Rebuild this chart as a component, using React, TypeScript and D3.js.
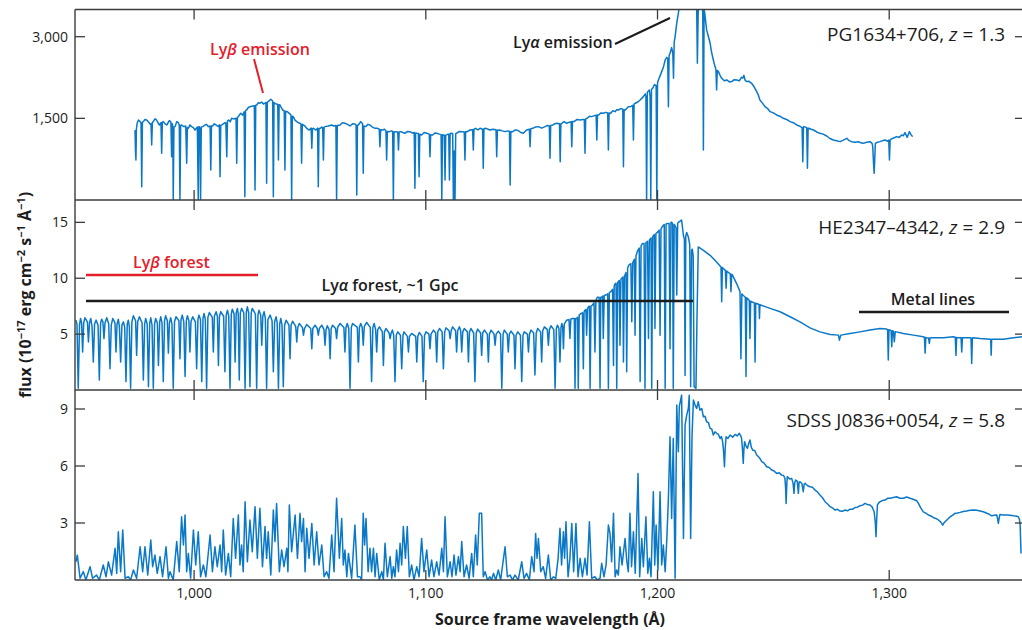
import React from "react";
import * as d3 from "d3";

// Wavelength ticks (Å) shared by all panels
const xTicks = [1000, 1100, 1200, 1300];
// Flux ticks for each quasar panel
const pgTicks = [1500, 3000];
const heTicks = [5, 10, 15];
const sdssTicks = [3, 6, 9];

// PG1634+706, z = 1.3 — [rest wavelength Å, flux]
const pgSpectrum: [number, number][] = [
  [974.5, 1286], [974.7, 900], [974.9, 735], [975.1, 1300], [975.4, 1409], [976.0, 1470], [976.7, 1440], [977.1, 1420],
  [977.4, 245], [977.7, 1430], [978.1, 1440], [978.8, 1480], [979.5, 1470], [980.2, 1440], [981.0, 1397], [981.4, 1400],
  [981.7, 1011], [982.0, 1430], [982.4, 1440], [983.1, 1490], [983.8, 1470], [984.4, 1420], [985.0, 1378], [985.7, 1420],
  [986.0, 858], [986.3, 1430], [986.7, 1440], [987.5, 1400], [988.2, 1378], [989.3, 1458], [990.0, 1430], [990.3, 796],
  [990.6, 1400], [990.8, 1350], [991.0, 0], [991.3, 1340], [991.8, 1348], [992.5, 1440], [993.2, 1420], [993.6, 1380],
  [993.9, 0], [994.2, 1370], [994.6, 1378], [995.6, 1348], [996.4, 1360], [996.8, 674], [997.1, 1330], [997.5, 1317],
  [998.2, 1380], [998.9, 1348], [999.7, 1330], [1000.4, 1286], [1001.4, 1340], [1001.8, 0], [1002.05, 1348], [1002.3, 1348],
  [1002.55, 1300], [1002.8, 0], [1003.1, 1340], [1003.7, 1348], [1004.7, 1378], [1005.4, 1390], [1006.1, 1348], [1006.9, 1360],
  [1007.2, 551], [1007.5, 1360], [1008.0, 1360], [1008.7, 1400], [1009.5, 1378], [1010.3, 1350], [1010.9, 1380], [1011.2, 429],
  [1011.5, 1370], [1011.9, 1378], [1012.9, 1409], [1013.7, 1420], [1014.1, 796], [1014.4, 1450], [1014.9, 1470], [1015.6, 1440],
  [1016.2, 1501], [1017.0, 1490], [1018.1, 1500], [1018.4, 674], [1018.7, 1520], [1019.1, 1532], [1020.1, 1593], [1021.0, 1560],
  [1021.6, 1620], [1021.9, 61], [1022.2, 1640], [1022.7, 1654], [1023.4, 1700], [1024.1, 1715], [1025.3, 1728], [1026.0, 1730],
  [1026.3, 184], [1026.6, 1740], [1027.0, 1746], [1027.8, 1790], [1028.5, 1777], [1029.2, 1800], [1029.9, 1764], [1031.0, 1790],
  [1031.3, 306], [1031.6, 1800], [1032.0, 1807], [1033.1, 1850], [1033.9, 1820], [1034.2, 61], [1034.5, 1790], [1034.9, 1777],
  [1035.6, 1760], [1036.1, 1760], [1036.4, 735], [1036.7, 1750], [1037.1, 1746], [1037.6, 1700], [1038.2, 1654], [1038.9, 1640],
  [1039.2, 551], [1039.5, 1630], [1040.2, 1623], [1041.1, 1593], [1041.8, 1560], [1042.1, 0], [1042.4, 1540], [1042.8, 1532],
  [1043.5, 1470], [1044.3, 1440], [1045.0, 1420], [1045.7, 1409], [1046.1, 1400], [1046.4, 674], [1046.7, 1390], [1047.1, 1378],
  [1047.8, 1360], [1048.6, 1317], [1049.7, 1286], [1050.5, 1320], [1050.8, 950], [1051.1, 1310], [1051.5, 1317], [1052.6, 1286],
  [1053.3, 1320], [1053.6, 245], [1053.9, 1310], [1054.4, 1317], [1055.1, 1340], [1055.5, 1330], [1055.8, 735], [1056.1, 1340],
  [1056.5, 1348], [1057.9, 1360], [1059.4, 1378], [1060.3, 1360], [1061.2, 1370], [1061.5, 0], [1061.8, 1370], [1063.0, 1378],
  [1064.0, 1420], [1065.1, 1409], [1066.2, 1390], [1067.3, 1360], [1068.4, 1400], [1069.4, 1397], [1069.9, 1380], [1070.2, 92],
  [1070.5, 1370], [1070.9, 1378], [1071.9, 1440], [1072.7, 1400], [1073.0, 490], [1073.3, 1360], [1074.2, 1348], [1075.0, 1390],
  [1075.9, 1378], [1077.0, 1340], [1078.1, 1317], [1079.0, 1320], [1079.9, 1300], [1080.2, 980], [1080.5, 1290], [1081.4, 1286],
  [1082.2, 1300], [1082.8, 1270], [1083.1, 735], [1083.4, 1260], [1084.3, 1256], [1085.2, 1270], [1085.7, 1260], [1086.0, 0],
  [1086.3, 1250], [1086.7, 1256], [1087.9, 1250], [1088.2, 919], [1088.5, 1250], [1089.2, 1256], [1090.1, 1240], [1091.0, 1225],
  [1092.1, 1260], [1093.2, 1256], [1094.2, 1230], [1095.0, 1240], [1095.3, 214], [1095.6, 1230], [1096.1, 1225], [1096.8, 1220],
  [1097.1, 429], [1097.4, 1210], [1098.2, 1195], [1099.3, 1240], [1100.4, 1225], [1101.5, 1210], [1101.8, 796], [1102.1, 1200],
  [1103.0, 1195], [1103.9, 1230], [1104.7, 1225], [1105.8, 1210], [1106.6, 1200], [1106.9, 0], [1107.2, 1200], [1107.6, 1195],
  [1108.0, 1190], [1108.3, 367], [1108.6, 1190], [1109.0, 1195], [1109.6, 1210], [1109.9, 1210], [1110.2, 367], [1110.5, 1220],
  [1110.9, 1225], [1111.6, 1220], [1111.9, 0], [1112.25, 900], [1112.6, 0], [1112.9, 1220], [1113.3, 1225], [1114.4, 1260],
  [1115.5, 1256], [1116.6, 1250], [1116.9, 735], [1117.2, 1260], [1117.9, 1256], [1119.1, 1286], [1120.2, 1290], [1120.5, 919],
  [1120.8, 1300], [1121.5, 1317], [1122.5, 1290], [1123.4, 1317], [1124.5, 1300], [1124.8, 582], [1125.1, 1310], [1126.0, 1317],
  [1127.7, 1286], [1129.0, 1300], [1130.3, 1290], [1130.6, 796], [1130.9, 1280], [1131.8, 1286], [1133.0, 1270], [1134.2, 1256],
  [1135.3, 1270], [1136.1, 1260], [1136.4, 276], [1136.7, 1260], [1137.5, 1256], [1138.7, 1290], [1139.9, 1274], [1141.0, 1240],
  [1142.1, 1225], [1143.5, 1286], [1144.7, 1300], [1145.0, 980], [1145.3, 1310], [1146.1, 1317], [1147.4, 1340], [1148.6, 1348],
  [1150.0, 1320], [1151.5, 1348], [1152.5, 1370], [1153.3, 1360], [1153.6, 766], [1153.9, 1370], [1154.8, 1378], [1155.6, 1400],
  [1156.5, 1409], [1157.7, 1400], [1158.0, 704], [1158.3, 1400], [1158.7, 1409], [1159.7, 1440], [1160.8, 1409], [1162.0, 1430],
  [1162.7, 1440], [1163.0, 980], [1163.3, 1440], [1164.0, 1440], [1165.3, 1480], [1166.6, 1470], [1167.8, 1480], [1168.4, 1480],
  [1168.7, 858], [1169.0, 1490], [1169.7, 1501], [1170.6, 1540], [1171.6, 1532], [1172.8, 1550], [1173.5, 1560], [1173.8, 1103],
  [1174.1, 1560], [1174.6, 1562], [1175.6, 1600], [1176.6, 1593], [1177.7, 1610], [1178.5, 1600], [1178.8, 919], [1179.1, 1600],
  [1179.8, 1593], [1180.7, 1640], [1181.7, 1623], [1182.4, 1660], [1183.1, 1654], [1184.2, 1680], [1185.0, 1670], [1185.3, 612],
  [1185.6, 1660], [1186.1, 1654], [1187.4, 1715], [1188.5, 1720], [1189.3, 1740], [1189.6, 1103], [1189.9, 1760], [1190.4, 1777],
  [1191.5, 1800], [1192.5, 1838], [1193.9, 1899], [1194.7, 1950], [1195.0, 1900], [1195.3, 0], [1195.6, 1980], [1196.5, 2022],
  [1196.8, 1900], [1197.1, 0], [1197.4, 2030], [1197.9, 2052], [1198.7, 2120], [1199.4, 2100], [1199.7, 0], [1200.0, 2150],
  [1200.4, 2206], [1201.8, 2359], [1202.6, 2450], [1203.3, 2573], [1204.0, 2620], [1204.4, 2600], [1204.7, 1715], [1205.0, 2650],
  [1205.4, 2696], [1206.1, 2800], [1206.6, 2700], [1206.9, 2236], [1207.2, 2900], [1207.6, 3002], [1208.3, 3250], [1209.0, 3431],
  [1210.5, 3900], [1212.0, 4250], [1214.0, 4400], [1216.0, 4100], [1216.9, 3553], [1217.2, 2512], [1217.6, 3553], [1218.6, 3860],
  [1219.5, 3700], [1219.8, 919], [1220.1, 3500], [1220.4, 3431], [1221.2, 3125], [1222.0, 3000], [1222.7, 2880], [1223.4, 2700],
  [1224.1, 2573], [1224.8, 2451], [1225.2, 2400], [1225.5, 2022], [1225.8, 2380], [1226.3, 2359], [1227.0, 2290], [1227.7, 2236],
  [1228.8, 2190], [1229.9, 2206], [1231.0, 2170], [1232.0, 2175], [1233.1, 2210], [1234.2, 2206], [1235.3, 2190], [1236.3, 2255],
  [1236.8, 2240], [1237.3, 2290], [1237.8, 2200], [1238.5, 2175], [1239.5, 2180], [1240.6, 2144], [1241.7, 2080], [1242.8, 1991],
  [1243.5, 1930], [1244.2, 1838], [1245.3, 1780], [1246.4, 1715], [1247.5, 1680], [1248.6, 1623], [1250.0, 1600], [1251.4, 1562],
  [1252.8, 1540], [1254.3, 1501], [1255.7, 1480], [1257.2, 1440], [1258.6, 1420], [1260.1, 1378], [1261.2, 1360], [1262.2, 1335],
  [1262.4, 1330], [1262.7, 704], [1263.0, 1340], [1263.2, 1348], [1264.4, 1330], [1264.7, 582], [1265.0, 1320], [1265.3, 1317],
  [1266.3, 1300], [1267.3, 1286], [1268.7, 1250], [1270.1, 1225], [1271.5, 1210], [1273.0, 1176], [1274.4, 1130], [1275.9, 1103],
  [1277.3, 1090], [1278.8, 1072], [1280.2, 1100], [1281.7, 1133], [1282.7, 1090], [1283.8, 1072], [1285.2, 1060], [1286.7, 1072],
  [1287.7, 1050], [1288.8, 1041], [1290.2, 1060], [1291.7, 1072], [1292.6, 1040], [1292.9, 980], [1293.2, 700], [1293.5, 490],
  [1293.8, 800], [1294.0, 1041], [1295.0, 1060], [1296.0, 1072], [1297.1, 1090], [1298.2, 1103], [1299.2, 1080], [1299.8, 1100],
  [1300.1, 735], [1300.4, 1100], [1300.6, 1115], [1301.9, 1140], [1303.2, 1164], [1304.3, 1150], [1305.4, 1195], [1306.1, 1180],
  [1306.8, 1237], [1307.8, 1152], [1308.7, 1256], [1309.4, 1200], [1310.1, 1164],
];

// HE2347−4342, z = 2.9
const heSpectrum: [number, number][] = [
  [949.0, 6.25], [949.45, 5.9], [950.0, 0.15], [950.55, 5.8], [951.0, 6.4], [951.45, 6.0], [951.9, 3.4], [952.35, 6.0],
  [952.9, 6.46], [953.95, 6.1], [954.4, 4.3], [954.85, 6.0], [955.4, 6.4], [955.95, 5.7], [956.5, 2.5], [957.05, 5.9],
  [957.7, 6.25], [958.55, 5.8], [959.1, 0.9], [959.65, 6.0], [960.1, 6.34], [960.65, 6.1], [961.1, 4.6], [961.55, 6.0],
  [962.3, 6.46], [963.15, 5.9], [963.7, 1.9], [964.25, 5.8], [964.9, 6.4], [965.85, 6.0], [966.3, 3.4], [966.75, 5.9],
  [967.3, 6.34], [967.75, 5.7], [968.3, 2.5], [968.85, 5.8], [969.5, 6.1], [970.05, 5.6], [970.6, 0.75], [971.15, 5.9],
  [971.6, 6.25], [972.05, 5.7], [972.6, 0.15], [973.15, 6.1], [973.8, 6.64], [974.75, 6.2], [975.2, 3.1], [975.65, 6.1],
  [976.4, 6.55], [977.55, 6.0], [978.1, 0.9], [978.65, 5.9], [979.1, 6.4], [979.75, 5.9], [980.3, 0.3], [980.85, 6.0],
  [981.3, 6.46], [981.85, 5.8], [982.4, 0.15], [982.95, 5.9], [983.4, 6.4], [984.15, 6.0], [984.6, 2.2], [985.15, 6.1],
  [985.6, 6.55], [986.15, 6.0], [986.7, 0.75], [987.25, 6.2], [987.7, 6.64], [988.45, 6.2], [988.9, 3.3], [989.35, 6.0],
  [989.9, 6.46], [990.45, 5.9], [991.0, 0.15], [991.55, 6.1], [992.2, 6.55], [993.45, 6.2], [993.9, 2.8], [994.35, 6.3],
  [994.9, 6.7], [995.55, 6.1], [996.1, 1.2], [996.65, 6.2], [997.1, 6.64], [997.75, 6.2], [998.2, 3.4], [998.65, 6.1],
  [999.4, 6.55], [1000.55, 6.1], [1001.1, 1.9], [1001.65, 6.3], [1002.1, 6.7], [1002.75, 6.3], [1003.3, 0.75], [1003.85, 6.4],
  [1004.3, 6.85], [1004.85, 6.3], [1005.4, 0.15], [1005.95, 6.5], [1006.6, 6.93], [1007.85, 6.5], [1008.3, 3.4], [1008.75, 6.6],
  [1009.5, 7.0], [1010.05, 6.6], [1010.5, 2.2], [1010.95, 6.6], [1011.5, 7.0], [1012.75, 6.6], [1013.3, 1.64], [1013.85, 6.7],
  [1014.4, 7.14], [1014.95, 6.6], [1015.5, 0.15], [1016.05, 6.8], [1016.5, 7.23], [1017.25, 6.8], [1017.7, 2.5], [1018.15, 6.9],
  [1018.7, 7.3], [1019.05, 6.8], [1019.5, 0.9], [1019.95, 6.9], [1020.5, 7.3], [1021.45, 6.9], [1022.0, 0.15], [1022.55, 7.0],
  [1023.0, 7.44], [1023.55, 6.9], [1024.1, 0.3], [1024.65, 6.9], [1025.1, 7.3], [1026.45, 6.8], [1027.0, 0.15], [1027.55, 6.7],
  [1028.0, 7.14], [1028.75, 6.7], [1029.2, 4.0], [1029.65, 6.6], [1030.2, 7.0], [1030.75, 6.4], [1031.3, 0.15], [1031.85, 6.3],
  [1032.8, 6.7], [1033.65, 6.2], [1034.2, 1.64], [1034.75, 6.1], [1035.4, 6.55], [1035.85, 6.0], [1036.4, 0.15], [1036.95, 5.9],
  [1037.4, 6.4], [1037.95, 5.8], [1038.5, 0.3], [1039.05, 5.8], [1039.7, 6.25], [1040.95, 5.8], [1041.4, 2.8], [1041.85, 5.8],
  [1042.5, 6.16], [1043.85, 5.7], [1044.3, 4.3], [1044.75, 5.6], [1045.4, 5.95], [1046.75, 5.6], [1047.2, 4.9], [1047.65, 5.5],
  [1048.6, 5.86], [1050.35, 5.5], [1050.8, 3.7], [1051.25, 5.5], [1052.2, 5.8], [1053.15, 5.5], [1053.6, 4.9], [1054.05, 5.5],
  [1055.1, 5.8], [1056.05, 5.4], [1056.5, 4.0], [1056.95, 5.4], [1057.5, 5.75], [1058.25, 5.4], [1058.7, 2.8], [1059.15, 5.5],
  [1059.8, 5.8], [1061.05, 5.5], [1061.5, 4.6], [1061.95, 5.6], [1063.0, 5.95], [1064.65, 5.6], [1065.1, 3.4], [1065.55, 5.6],
  [1066.1, 5.95], [1066.75, 5.5], [1067.3, 0.15], [1067.85, 5.6], [1068.4, 5.95], [1070.45, 5.6], [1070.9, 2.5], [1071.35, 5.6],
  [1071.9, 5.95], [1072.55, 5.6], [1073.0, 4.0], [1073.45, 5.7], [1074.5, 6.04], [1076.05, 5.6], [1076.6, 0.75], [1077.15, 5.6],
  [1077.7, 5.95], [1078.35, 5.4], [1078.8, 3.4], [1079.25, 5.4], [1080.0, 5.65], [1081.25, 5.2], [1081.7, 2.2], [1082.15, 5.2],
  [1082.8, 5.5], [1084.15, 5.1], [1084.6, 4.6], [1085.05, 5.1], [1085.6, 5.36], [1086.15, 4.9], [1086.7, 0.75], [1087.25, 4.9],
  [1087.9, 5.2], [1089.05, 4.9], [1089.6, 1.9], [1090.15, 4.9], [1090.6, 5.2], [1092.05, 4.8], [1092.5, 3.4], [1092.95, 4.8],
  [1093.9, 5.06], [1095.65, 4.8], [1096.1, 2.5], [1096.55, 4.8], [1097.2, 5.15], [1098.35, 4.8], [1098.9, 0.75], [1099.45, 4.9],
  [1100.1, 5.2], [1101.35, 5.0], [1101.8, 3.7], [1102.25, 5.0], [1103.3, 5.36], [1104.25, 5.1], [1104.7, 2.5], [1105.15, 5.2],
  [1105.9, 5.5], [1107.05, 5.2], [1107.6, 1.9], [1108.15, 5.2], [1108.7, 5.56], [1110.05, 5.3], [1110.5, 4.6], [1110.95, 5.3],
  [1111.6, 5.65], [1112.85, 5.3], [1113.3, 3.4], [1113.75, 5.3], [1114.5, 5.65], [1115.05, 5.3], [1115.5, 3.4], [1115.95, 5.2],
  [1116.6, 5.5], [1117.95, 5.2], [1118.4, 2.5], [1118.85, 5.2], [1119.5, 5.5], [1120.65, 5.1], [1121.2, 0.75], [1121.75, 5.1],
  [1122.4, 5.45], [1123.65, 5.1], [1124.1, 3.1], [1124.55, 5.1], [1125.3, 5.36], [1126.55, 5.0], [1127.0, 2.5], [1127.45, 5.0],
  [1128.2, 5.36], [1129.45, 5.0], [1129.9, 4.0], [1130.35, 5.0], [1131.3, 5.27], [1132.25, 5.0], [1132.8, 0.15], [1133.35, 5.0],
  [1133.9, 5.36], [1135.15, 5.0], [1135.6, 3.4], [1136.05, 5.0], [1136.8, 5.27], [1138.05, 4.9], [1138.5, 1.9], [1138.95, 4.9],
  [1139.7, 5.2], [1140.85, 4.9], [1141.4, 0.75], [1141.95, 4.9], [1142.5, 5.2], [1143.85, 5.0], [1144.3, 3.4], [1144.75, 5.0],
  [1145.4, 5.36], [1146.55, 5.1], [1147.1, 1.34], [1147.65, 5.1], [1148.3, 5.5], [1149.55, 5.2], [1150.0, 2.5], [1150.45, 5.3],
  [1151.2, 5.65], [1152.45, 5.4], [1152.9, 4.0], [1153.35, 5.4], [1154.0, 5.75], [1155.25, 5.4], [1155.8, 0.15], [1156.35, 5.5],
  [1156.8, 5.8], [1157.45, 5.5], [1157.9, 2.5], [1158.35, 5.6], [1158.7, 5.95], [1159.05, 5.7], [1159.4, 3.7], [1159.75, 5.9],
  [1160.8, 6.25], [1161.8, 6.3], [1162.2, 4.6], [1162.6, 6.35], [1163.3, 6.4], [1164.1, 6.4], [1164.4, 0.15], [1164.7, 6.4],
  [1165.1, 6.4], [1165.5, 6.5], [1165.8, 0.15], [1166.2, 6.7], [1166.9, 6.85], [1167.6, 6.9], [1168.0, 1.9], [1168.3, 7.0],
  [1168.7, 7.14], [1169.1, 7.2], [1169.4, 4.9], [1169.8, 7.3], [1170.2, 7.44], [1170.6, 7.5], [1170.9, 0.15], [1171.3, 7.5],
  [1171.9, 7.6], [1172.6, 7.8], [1173.0, 3.4], [1173.4, 8.0], [1174.0, 8.3], [1174.8, 8.3], [1175.2, 0.15], [1175.5, 8.3],
  [1175.9, 8.3], [1176.3, 8.4], [1176.6, 4.6], [1177.0, 8.45], [1177.8, 8.5], [1178.5, 8.6], [1178.8, 0.15], [1179.2, 8.7],
  [1179.8, 8.8], [1180.6, 9.0], [1181.0, 2.2], [1181.3, 9.3], [1181.7, 9.5], [1182.1, 9.55], [1182.4, 0.15], [1182.8, 9.6],
  [1183.1, 9.7], [1183.5, 9.8], [1183.8, 4.0], [1184.2, 9.9], [1184.6, 10.0], [1185.0, 10.1], [1185.3, 2.5], [1185.7, 10.2],
  [1186.0, 10.3], [1186.4, 10.5], [1186.7, 1.64], [1187.1, 10.9], [1187.7, 11.2], [1188.5, 11.3], [1188.9, 6.1], [1189.3, 11.4],
  [1189.6, 11.5], [1190.0, 11.7], [1190.3, 4.9], [1190.7, 12.0], [1191.3, 12.4], [1192.1, 12.7], [1192.5, 0.75], [1192.9, 12.9],
  [1193.5, 13.1], [1194.2, 13.1], [1194.6, 0.15], [1195.0, 13.2], [1195.3, 13.2], [1195.7, 13.3], [1196.1, 4.6], [1196.5, 13.4],
  [1196.8, 13.5], [1197.2, 13.6], [1197.5, 0.15], [1197.9, 13.7], [1198.2, 13.8], [1198.6, 13.9], [1198.9, 5.5], [1199.3, 14.0],
  [1199.9, 14.1], [1200.7, 14.3], [1201.1, 4.9], [1201.5, 14.4], [1202.0, 14.6], [1202.9, 14.8], [1203.3, 0.15], [1203.7, 14.85],
  [1204.3, 14.9], [1205.0, 14.9], [1205.4, 3.7], [1205.8, 15.0], [1206.1, 15.0], [1206.5, 14.9], [1206.8, 0.15], [1207.2, 14.8],
  [1207.6, 14.7], [1208.0, 14.5], [1208.3, 8.5], [1208.7, 14.9], [1209.0, 15.0], [1210.4, 15.2], [1211.2, 13.8], [1211.6, 13.5],
  [1211.9, 1.3], [1212.2, 13.8], [1212.6, 14.1], [1213.3, 13.7], [1213.9, 13.0], [1214.3, 0.3], [1214.7, 12.5], [1215.0, 12.6],
  [1215.4, 12.0], [1215.8, 0.3], [1216.6, 0.15], [1217.0, 6.0], [1217.6, 12.8], [1219.8, 12.5], [1222.7, 12.05], [1225.5, 11.45],
  [1227.0, 11.1], [1227.4, 11.0], [1227.7, 7.9], [1228.0, 10.95], [1228.4, 10.86], [1229.3, 10.7], [1229.6, 9.1], [1229.9, 10.65],
  [1230.1, 10.6], [1231.4, 10.4], [1231.7, 8.8], [1232.0, 10.35], [1232.3, 10.3], [1234.2, 9.5], [1235.6, 8.8], [1236.0, 2.8],
  [1236.4, 8.6], [1236.8, 8.5], [1237.9, 8.3], [1238.2, 1.2], [1238.5, 8.25], [1238.8, 8.2], [1239.6, 8.0], [1239.9, 4.6],
  [1240.2, 7.95], [1240.6, 7.9], [1241.8, 7.8], [1242.1, 2.5], [1242.4, 7.76], [1242.8, 7.74], [1243.8, 7.65], [1244.0, 6.4],
  [1244.2, 7.62], [1244.5, 7.6], [1248.6, 7.3], [1252.9, 7.0], [1257.2, 6.55], [1261.5, 6.1], [1265.8, 5.56], [1270.1, 5.2],
  [1274.5, 4.97], [1278.1, 4.91], [1278.5, 4.46], [1279.1, 4.91], [1283.1, 5.06], [1287.4, 5.2], [1291.7, 5.36], [1296.0, 5.5],
  [1298.9, 5.45], [1299.3, 5.4], [1299.6, 2.68], [1299.9, 5.4], [1300.4, 5.36], [1300.8, 5.3], [1301.1, 3.87], [1301.4, 5.3],
  [1301.8, 5.27], [1302.2, 4.32], [1302.6, 5.22], [1303.0, 5.2], [1306.1, 5.06], [1310.4, 4.91], [1314.7, 4.76], [1315.2, 4.72],
  [1315.5, 3.3], [1315.8, 4.7], [1316.2, 4.67], [1317.0, 4.65], [1317.3, 4.17], [1317.6, 4.65], [1318.3, 4.67], [1323.4, 4.67],
  [1327.7, 4.76], [1328.5, 4.72], [1328.8, 3.1], [1329.1, 4.7], [1329.4, 4.67], [1331.0, 4.67], [1331.3, 3.4], [1331.6, 4.67],
  [1332.0, 4.67], [1334.9, 4.67], [1335.3, 4.65], [1335.6, 2.38], [1335.9, 4.65], [1336.3, 4.67], [1339.2, 4.61], [1343.5, 4.55],
  [1343.8, 4.55], [1344.0, 3.1], [1344.2, 4.55], [1344.4, 4.55], [1349.3, 4.55], [1353.6, 4.67], [1357.3, 4.76],
];

// SDSS J0836+0054, z = 5.8
const sdssSpectrum: [number, number][] = [
  [949.0, 0.96], [949.6, 1.31], [950.8, 0.09], [952.2, 0.44], [953.3, 0], [955.1, 0.7], [956.2, 0.09], [957.9, 0.26],
  [959.1, 0], [960.8, 0.79], [962.0, 0.17], [963.0, 0.96], [964.4, 0.26], [965.9, 1.67], [966.6, 0.35], [967.3, 2.54],
  [968.3, 0.44], [969.2, 2.63], [970.2, 0.09], [971.6, 0.17], [972.6, 0], [973.8, 0.53], [975.2, 0.09], [976.7, 1.75],
  [977.8, 0.44], [978.8, 1.75], [980.0, 0.26], [981.3, 2.1], [982.1, 0.7], [983.1, 1.31], [984.1, 0.35], [985.3, 1.23],
  [986.4, 0.17], [987.9, 1.75], [988.9, 0.09], [989.6, 0.44], [991.0, 0], [992.5, 2.02], [993.6, 0.44], [994.6, 3.33],
  [995.4, 1.84], [996.1, 3.42], [996.8, 0.44], [997.5, 1.4], [998.5, 0.09], [999.7, 2.63], [1000.7, 0.79], [1001.8, 2.54],
  [1002.8, 0.17], [1004.0, 0.79], [1005.1, 0.17], [1006.9, 2.37], [1007.9, 0.44], [1009.0, 1.75], [1010.0, 0.7], [1011.2, 1.84],
  [1011.9, 0.44], [1012.6, 2.63], [1013.6, 0.26], [1014.8, 1.4], [1015.8, 0.17], [1016.9, 3.24], [1017.9, 1.14], [1019.1, 3.42],
  [1019.8, 0.79], [1020.5, 1.84], [1021.2, 0.44], [1022.0, 4.12], [1023.0, 0.96], [1024.1, 3.16], [1025.1, 1.49], [1026.3, 3.86],
  [1027.3, 1.14], [1028.4, 3.77], [1029.5, 0.7], [1030.6, 2.81], [1031.3, 1.14], [1032.0, 2.54], [1033.1, 0.26], [1034.2, 3.68],
  [1034.9, 2.02], [1035.6, 4.03], [1036.8, 0.44], [1037.8, 1.58], [1038.8, 0.7], [1040.0, 1.67], [1040.5, 0.44], [1041.1, 3.95],
  [1042.1, 1.49], [1043.6, 3.42], [1044.6, 1.14], [1045.7, 3.51], [1046.4, 2.02], [1047.2, 3.24], [1047.9, 0.44], [1048.6, 2.72],
  [1049.6, 1.14], [1050.8, 2.98], [1051.8, 0.79], [1052.9, 2.54], [1053.9, 0.79], [1055.1, 1.84], [1056.1, 0.17], [1057.2, 0.44],
  [1058.2, 0.09], [1059.4, 2.37], [1060.4, 0.44], [1061.5, 4.3], [1062.7, 1.14], [1063.7, 3.24], [1064.4, 0.79], [1065.1, 1.58],
  [1065.9, 0.17], [1066.6, 1.4], [1068.0, 0.09], [1069.4, 2.89], [1070.5, 0.17], [1071.6, 0.17], [1072.3, 0], [1073.0, 3.51],
  [1073.6, 1.84], [1074.2, 3.24], [1075.1, 0.44], [1075.9, 1.67], [1076.6, 0.44], [1077.4, 1.67], [1078.1, 0.17], [1078.8, 1.4],
  [1079.9, 0], [1081.0, 0.44], [1081.7, 0], [1082.4, 1.93], [1083.4, 0.17], [1084.6, 1.23], [1085.3, 0.09], [1086.0, 0.7],
  [1086.7, 0.17], [1087.4, 1.58], [1088.2, 0.44], [1088.9, 1.93], [1089.6, 0.79], [1090.3, 2.81], [1091.2, 1.14], [1092.0, 2.81],
  [1092.9, 0.17], [1093.9, 0.79], [1094.9, 0], [1096.1, 0.7], [1097.1, 0.17], [1098.2, 2.19], [1099.2, 0.44], [1100.4, 1.58],
  [1101.4, 0.17], [1102.5, 1.05], [1103.5, 0.17], [1104.7, 0.96], [1105.7, 0.26], [1106.9, 1.67], [1107.6, 0.44], [1108.3, 3.33],
  [1109.3, 0.17], [1110.5, 0.96], [1111.3, 0.17], [1112.2, 1.31], [1113.0, 0.26], [1114.1, 1.23], [1114.8, 0.44], [1115.5, 2.02],
  [1116.5, 0.17], [1117.6, 0.79], [1118.7, 0.09], [1119.8, 1.4], [1120.5, 0.17], [1121.5, 2.37], [1122.2, 0.79], [1123.1, 3.51],
  [1124.1, 3.51], [1124.8, 0.17], [1125.6, 0.44], [1126.6, 0], [1127.7, 0.17], [1128.4, 0], [1129.2, 0.35], [1130.2, 0],
  [1131.3, 0.53], [1132.3, 0], [1134.2, 1.75], [1135.2, 0.17], [1136.4, 0.26], [1137.4, 0], [1138.5, 0.26], [1139.9, 0],
  [1141.4, 0.96], [1142.4, 0.09], [1143.5, 0.35], [1144.7, 0], [1145.7, 1.23], [1146.7, 0.44], [1147.4, 2.45], [1148.0, 1.14],
  [1148.6, 2.19], [1149.6, 0.44], [1150.7, 0.7], [1151.7, 0.09], [1152.9, 1.31], [1153.9, 0], [1155.1, 0.17], [1156.1, 0.09],
  [1157.1, 1.14], [1157.9, 2.72], [1158.6, 0.79], [1159.4, 2.54], [1159.9, 1.14], [1160.5, 3.07], [1161.4, 0.17], [1162.2, 1.14],
  [1163.0, 2.98], [1163.8, 0.44], [1164.8, 2.98], [1165.7, 0.17], [1166.6, 1.14], [1167.6, 0.17], [1168.7, 1.14], [1169.6, 0.26],
  [1170.6, 3.07], [1171.6, 0.09], [1173.0, 0.17], [1174.0, 0], [1175.2, 0.09], [1175.9, 0.88], [1176.9, 0.17], [1177.8, 0.79],
  [1178.8, 2.89], [1179.5, 2.45], [1180.2, 0.96], [1181.0, 3.51], [1181.7, 0.17], [1182.4, 0.53], [1183.1, 0.26], [1183.8, 1.75],
  [1184.7, 0.79], [1186.0, 2.19], [1186.7, 1.05], [1187.4, 0.44], [1188.1, 3.51], [1188.8, 0.7], [1189.6, 2.54], [1190.4, 0.35],
  [1191.6, 5.61], [1192.3, 0.17], [1193.2, 2.19], [1193.9, 0.7], [1195.0, 3.33], [1195.8, 0.35], [1196.5, 1.14], [1197.2, 0.17],
  [1198.2, 4.65], [1198.8, 0.79], [1199.4, 2.89], [1200.2, 0.53], [1201.1, 4.65], [1201.8, 0.79], [1202.5, 1.84], [1203.3, 0.44],
  [1204.0, 2.1], [1204.7, 4.3], [1205.4, 7.54], [1206.1, 3.24], [1206.8, 7.45], [1207.6, 0.09], [1208.3, 9.21], [1209.0, 6.75],
  [1209.4, 9.12], [1210.4, 9.73], [1211.2, 2.19], [1211.9, 8.16], [1212.6, 8.68], [1213.3, 9.03], [1213.7, 9.73], [1214.3, 2.19],
  [1214.9, 7.63], [1215.5, 9.47], [1216.2, 9.21], [1216.9, 9.03], [1217.6, 9.38], [1218.3, 8.94], [1219.1, 9.03], [1219.8, 8.59],
  [1220.5, 8.62], [1221.2, 8.33], [1222.0, 8.28], [1222.7, 7.98], [1223.4, 7.95], [1224.1, 7.63], [1224.8, 7.8], [1225.5, 7.72],
  [1226.2, 7.68], [1227.0, 7.45], [1227.6, 7.55], [1228.1, 7.28], [1228.5, 6.8], [1228.9, 5.96], [1229.2, 6.9], [1229.6, 7.54],
  [1230.4, 7.45], [1231.3, 7.63], [1232.4, 7.52], [1233.5, 7.66], [1234.4, 7.58], [1235.3, 7.72], [1235.9, 7.6], [1236.3, 7.45],
  [1236.7, 6.8], [1237.0, 6.14], [1237.3, 6.9], [1237.6, 7.28], [1238.2, 7.05], [1238.8, 6.93], [1239.4, 7.2], [1239.9, 7.37],
  [1240.5, 6.98], [1241.1, 6.84], [1242.0, 6.8], [1242.8, 6.58], [1243.9, 6.45], [1245.0, 6.23], [1246.0, 6.15], [1247.1, 5.96],
  [1248.2, 5.92], [1249.3, 5.79], [1250.3, 5.74], [1251.4, 5.61], [1252.5, 5.64], [1253.6, 5.52], [1254.4, 5.5], [1255.0, 5.35],
  [1255.3, 4.8], [1255.5, 4.03], [1255.8, 5.0], [1256.0, 5.44], [1257.0, 5.32], [1257.9, 5.35], [1258.5, 5.1], [1258.9, 4.56],
  [1259.2, 5.1], [1259.6, 5.26], [1260.3, 5.2], [1260.8, 4.56], [1261.1, 5.15], [1261.5, 5.17], [1262.3, 5.08], [1262.9, 4.65],
  [1263.3, 5.05], [1263.7, 5.09], [1264.8, 4.96], [1265.8, 4.91], [1266.9, 4.88], [1268.0, 4.73], [1269.0, 4.64], [1270.1, 4.47],
  [1271.2, 4.33], [1272.3, 4.12], [1273.4, 4.0], [1274.5, 3.86], [1275.5, 3.8], [1276.6, 3.68], [1277.7, 3.72], [1278.8, 3.63],
  [1279.8, 3.62], [1280.9, 3.68], [1282.0, 3.64], [1283.1, 3.73], [1284.1, 3.72], [1285.2, 3.81], [1286.3, 3.83], [1287.4, 3.91],
  [1288.5, 3.94], [1289.6, 4.03], [1290.6, 3.97], [1291.7, 3.95], [1292.6, 3.85], [1293.5, 3.59], [1294.0, 3.0], [1294.3, 2.28],
  [1294.6, 3.2], [1294.9, 3.95], [1295.5, 4.06], [1296.0, 4.12], [1297.1, 4.18], [1298.2, 4.21], [1299.3, 4.3], [1300.4, 4.3],
  [1301.8, 4.34], [1303.2, 4.38], [1304.6, 4.3], [1306.1, 4.3], [1307.5, 4.37], [1309.0, 4.3], [1310.0, 4.26], [1311.1, 4.21],
  [1311.9, 4.17], [1312.6, 4.03], [1313.6, 3.8], [1314.7, 3.59], [1315.8, 3.52], [1316.9, 3.42], [1318.0, 3.37], [1319.1, 3.28],
  [1320.1, 3.24], [1321.2, 3.16], [1322.2, 3.06], [1323.1, 2.89], [1323.6, 3.0], [1324.1, 3.07], [1325.2, 3.2], [1326.3, 3.33],
  [1327.3, 3.4], [1328.4, 3.51], [1329.5, 3.53], [1330.6, 3.56], [1332.0, 3.61], [1333.4, 3.63], [1334.9, 3.67], [1336.3, 3.68],
  [1337.8, 3.67], [1339.2, 3.63], [1340.6, 3.59], [1342.1, 3.51], [1343.2, 3.46], [1344.2, 3.38], [1345.3, 3.41], [1346.4, 3.42],
  [1346.8, 3.2], [1347.1, 2.98], [1347.5, 3.3], [1347.8, 3.45], [1349.2, 3.42], [1350.7, 3.42], [1352.1, 3.41], [1353.6, 3.38],
  [1354.6, 3.37], [1355.7, 3.33], [1356.2, 3.2], [1356.5, 2.89], [1356.9, 1.4],
];

const W = 1022;
const H = 630;
const LEFT = 75;
const RIGHT = 1025;
const FONT = "'Open Sans', 'Noto Sans', sans-serif";
const BLUE = "#0a78c6";
const RED = "#e3202a";
const INK = "#1c1c1c";
const FRAME = "#3c3c3c";

const x = d3.scaleLinear().domain([948.6, 1358.6]).range([LEFT, RIGHT]);

type Panel = {
  key: string;
  data: [number, number][];
  yMax: number;
  top: number;
  bottom: number;
  ticks: number[];
  name: string;
  z: string;
  labelY: number;
};

const panels: Panel[] = [
  { key: "pg", data: pgSpectrum, yMax: 3500, top: 9.5, bottom: 200, ticks: pgTicks, name: "PG1634+706", z: "1.3", labelY: 40.5 },
  { key: "he", data: heSpectrum, yMax: 17, top: 200, bottom: 390, ticks: heTicks, name: "HE2347\u20134342", z: "2.9", labelY: 234 },
  { key: "sdss", data: sdssSpectrum, yMax: 10, top: 390, bottom: 580, ticks: sdssTicks, name: "SDSS J0836+0054", z: "5.8", labelY: 426.5 },
];

const fmt = d3.format(",");

function SpectrumPanel({ p }: { p: Panel }) {
  const y = d3.scaleLinear().domain([0, p.yMax]).range([p.bottom, p.top]);
  const line = d3
    .line<[number, number]>()
    .x((d) => x(d[0]))
    .y((d) => y(d[1]));
  const clipId = `clip-${p.key}`;
  return (
    <g>
      <clipPath id={clipId}>
        <rect x={LEFT} y={p.top} width={RIGHT - LEFT} height={p.bottom - p.top} />
      </clipPath>
      <path
        d={line(p.data) ?? ""}
        fill="none"
        stroke={BLUE}
        strokeWidth={1.5}
        strokeLinejoin="round"
        clipPath={`url(#${clipId})`}
      />
      {p.ticks.map((t) => (
        <g key={t}>
          <line x1={LEFT} x2={LEFT + 10} y1={y(t)} y2={y(t)} stroke={FRAME} strokeWidth={1.3} />
          <line x1={RIGHT - 10} x2={RIGHT} y1={y(t)} y2={y(t)} stroke={FRAME} strokeWidth={1.3} />
          <text x={LEFT - 7} y={y(t)} dy="0.36em" textAnchor="end" fontSize={14} fill={INK}>
            {fmt(t)}
          </text>
        </g>
      ))}
      {xTicks.map((t) => (
        <g key={t}>
          <line x1={x(t)} x2={x(t)} y1={p.top} y2={p.top + 10} stroke={FRAME} strokeWidth={1.3} />
          <line x1={x(t)} x2={x(t)} y1={p.bottom - 10} y2={p.bottom} stroke={FRAME} strokeWidth={1.3} />
        </g>
      ))}
      <text x={1005} y={p.labelY} textAnchor="end" fontSize={19} fill={INK}>
        {p.name}, <tspan fontStyle="italic">z</tspan> = {p.z}
      </text>
    </g>
  );
}

export default function App() {
  return (
    <svg
      width={W}
      height={H}
      viewBox={`0 0 ${W} ${H}`}
      style={{ position: "absolute", left: 0, top: 0, background: "#fff" }}
      fontFamily={FONT}
    >
      <rect x={0} y={0} width={W} height={H} fill="#fff" />
      {panels.map((p) => (
        <SpectrumPanel key={p.key} p={p} />
      ))}

      {/* frame */}
      {[9.5, 200, 390, 580].map((yy) => (
        <line key={yy} x1={LEFT} x2={RIGHT} y1={yy} y2={yy} stroke={FRAME} strokeWidth={1.4} />
      ))}
      <line x1={LEFT} x2={LEFT} y1={9.5} y2={580} stroke={FRAME} strokeWidth={1.4} />
      <line x1={RIGHT} x2={RIGHT} y1={9.5} y2={580} stroke={FRAME} strokeWidth={1.4} />

      {/* wavelength axis */}
      {xTicks.map((t) => (
        <text key={t} x={x(t)} y={598} textAnchor="middle" fontSize={14} fill={INK}>
          {fmt(t)}
        </text>
      ))}
      <text x={550} y={625} textAnchor="middle" fontSize={16} fontWeight={700} fill={INK}>
        Source frame wavelength (Å)
      </text>

      {/* flux axis title */}
      <text
        transform="translate(31,295) rotate(-90)"
        textAnchor="middle"
        fontSize={16}
        fontWeight={700}
        fill={INK}
      >
        flux (10
        <tspan dy={-6} fontSize={11}>−17</tspan>
        <tspan dy={6}> erg cm</tspan>
        <tspan dy={-6} fontSize={11}>−2</tspan>
        <tspan dy={6}> s</tspan>
        <tspan dy={-6} fontSize={11}>−1</tspan>
        <tspan dy={6}> Å</tspan>
        <tspan dy={-6} fontSize={11}>−1</tspan>
        <tspan dy={6}>)</tspan>
      </text>

      {/* annotations */}
      <text x={210} y={55} fontSize={16} fontWeight={600} fill={RED}>
        Ly<tspan fontStyle="italic">β</tspan> emission
      </text>
      <line x1={254} y1={59} x2={263} y2={93} stroke={RED} strokeWidth={2} />

      <text x={513} y={48} fontSize={16} fontWeight={600} fill={INK}>
        Ly<tspan fontStyle="italic">α</tspan> emission
      </text>
      <line x1={615} y1={44} x2={670} y2={18} stroke={INK} strokeWidth={2} />

      <text x={133} y={268} fontSize={16} fontWeight={600} fill={RED}>
        Ly<tspan fontStyle="italic">β</tspan> forest
      </text>
      <line x1={86} x2={258} y1={275} y2={275} stroke={RED} strokeWidth={2.5} />

      <text x={390} y={291} textAnchor="middle" fontSize={16} fontWeight={600} fill={INK}>
        Ly<tspan fontStyle="italic">α</tspan> forest, ~1 Gpc
      </text>
      <line x1={86} x2={693} y1={301} y2={301} stroke={INK} strokeWidth={2.5} />

      <text x={933} y={305} textAnchor="middle" fontSize={16} fontWeight={600} fill={INK}>
        Metal lines
      </text>
      <line x1={859} x2={1009} y1={312} y2={312} stroke={INK} strokeWidth={2.5} />
    </svg>
  );
}
